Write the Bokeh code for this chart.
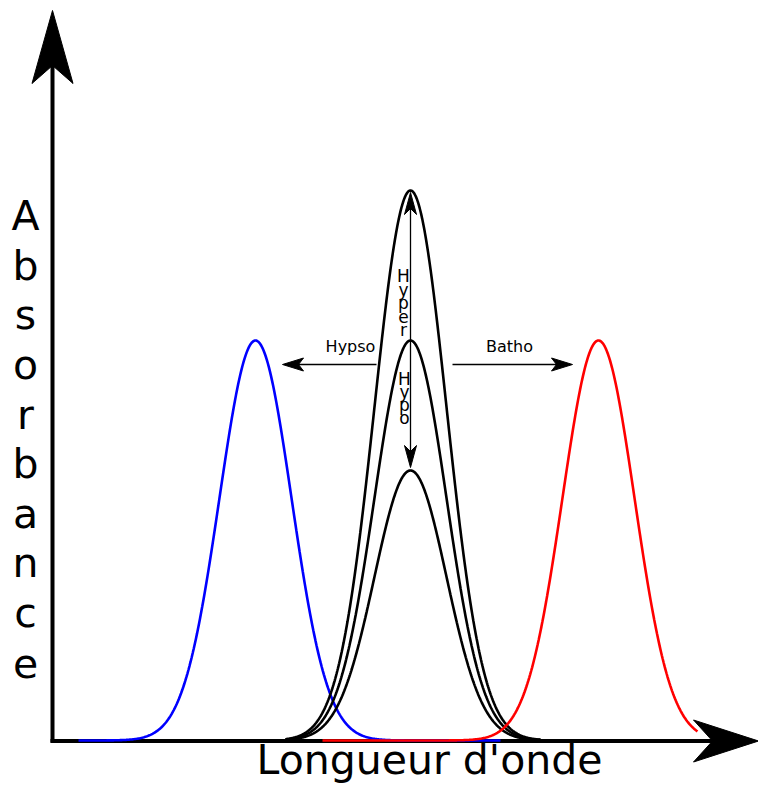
import numpy as np
from bokeh.plotting import figure
from bokeh.models import Range1d
from bokeh.embed import file_html
from bokeh.resources import INLINE
from bokeh.core.properties import value

# ---- data (x in wavelength units, y in absorbance units) ----
band_names = ["Hypso", "Ref", "Hyper", "Hypo", "Batho"]
band_centers = [255, 410, 410, 410, 598]
band_heights = [1.0, 1.0, 1.375, 0.675, 1.0]
band_widths = [36, 36, 36, 36, 36]
band_colors = ["#0000ff", "#000000", "#000000", "#000000", "#ff0000"]
band_starts = [78, 285, 285, 285, 322]
band_ends = [500, 540, 540, 540, 697]

ylabel_letters = list("Absorbance")
xlabel_text = "Longueur d'onde"
hyper_letters = list("Hyper")
hypo_letters = list("Hypo")

PX_PER_ABS = 400.0
BASE_PY = 740.0
W, H = 758, 787
SHIFT = 0.42  # baseline correction, fraction of font size


def y_of(py):
    return (BASE_PY - py) / PX_PER_ABS


def ty(py, fs):
    return y_of(py - SHIFT * fs)


p = figure(width=W, height=H, x_range=Range1d(0, W),
           y_range=Range1d(y_of(H), y_of(0)), output_backend="svg",
           toolbar_location=None, min_border=0, title=None)
p.axis.visible = False
p.grid.visible = False
p.outline_line_color = None
p.background_fill_color = "white"


def head(tx, tpy, dx, dy, length, half, notch):
    bx, by = tx - dx * length, tpy - dy * length
    nx, ny = tx - dx * notch, tpy - dy * notch
    px_, py_ = -dy, dx
    xs = [tx, bx + px_ * half, nx, bx - px_ * half]
    ys = [tpy, by + py_ * half, ny, by - py_ * half]
    return xs, [y_of(v) for v in ys]


# ---- axes ----
AX_X = 52
p.line([AX_X, AX_X], [y_of(742), y_of(60)], line_width=4, line_color="black")
p.line([AX_X - 2, 715], [y_of(740.5), y_of(740.5)], line_width=4, line_color="black")
hx, hy = head(AX_X, 10, 0, -1, 73, 20.5, 55)
p.patch(hx, hy, fill_color="black", line_color="black", line_width=1)
hx, hy = head(758, 740.5, 1, 0, 65, 21, 46)
p.patch(hx, hy, fill_color="black", line_color="black", line_width=1)

# ---- bands ----
for i in range(len(band_names)):
    xs = np.linspace(band_starts[i], band_ends[i], 400)
    ys = band_heights[i] * np.exp(-0.5 * ((xs - band_centers[i]) / band_widths[i]) ** 2)
    p.line(xs, ys, line_color=band_colors[i], line_width=2.6)

# ---- shift arrows ----
ref_c = band_centers[1]
arrow_y = y_of(364)
p.line([376, band_centers[0] + 30], [arrow_y, arrow_y], line_color="black", line_width=1.3)
hx, hy = head(band_centers[0] + 27, 364, -1, 0, 21, 6.5, 16)
p.patch(hx, hy, fill_color="black", line_color="black")
p.line([452, band_centers[4] - 30], [arrow_y, arrow_y], line_color="black", line_width=1.3)
hx, hy = head(band_centers[4] - 26, 364, 1, 0, 21, 6.5, 16)
p.patch(hx, hy, fill_color="black", line_color="black")
top_py = BASE_PY - band_heights[2] * PX_PER_ABS + 2
bot_py = BASE_PY - band_heights[3] * PX_PER_ABS - 3
p.line([ref_c, ref_c], [y_of(top_py + 4), y_of(bot_py - 4)], line_color="black", line_width=1.3)
hx, hy = head(ref_c, top_py, 0, -1, 22, 6, 16)
p.patch(hx, hy, fill_color="black", line_color="black")
hx, hy = head(ref_c, bot_py, 0, 1, 22, 6, 16)
p.patch(hx, hy, fill_color="black", line_color="black")

# ---- texts ----
FONT = value("DejaVu Sans")
fs = 41
p.text(x=[25] * len(ylabel_letters),
       y=[ty(233 + 49.6 * k, fs) for k in range(len(ylabel_letters))],
       text=ylabel_letters, text_font=FONT, text_font_size=f"{fs}px",
       text_align="center", text_baseline="alphabetic", text_color="black")
fs = 41
p.text(x=[429], y=[ty(777, fs)], text=[xlabel_text], text_font=FONT,
       text_font_size=f"{fs}px", text_align="center", text_baseline="alphabetic",
       text_color="black")
fs = 16
p.text(x=[350, 509], y=[ty(353, fs), ty(353, fs)], text=["Hypso", "Batho"],
       text_font=FONT, text_font_size=f"{fs}px", text_align="center",
       text_baseline="alphabetic", text_color="black")
fs = 17
p.text(x=[403] * len(hyper_letters),
       y=[ty(283 + 13.5 * k, fs) for k in range(len(hyper_letters))],
       text=hyper_letters, text_font=FONT, text_font_size=f"{fs}px",
       text_align="center", text_baseline="alphabetic", text_color="black")
p.text(x=[404] * len(hypo_letters),
       y=[ty(386 + 13 * k, fs) for k in range(len(hypo_letters))],
       text=hypo_letters, text_font=FONT, text_font_size=f"{fs}px",
       text_align="center", text_baseline="alphabetic", text_color="black")

open("out.html", "w").write(file_html(p, INLINE))
